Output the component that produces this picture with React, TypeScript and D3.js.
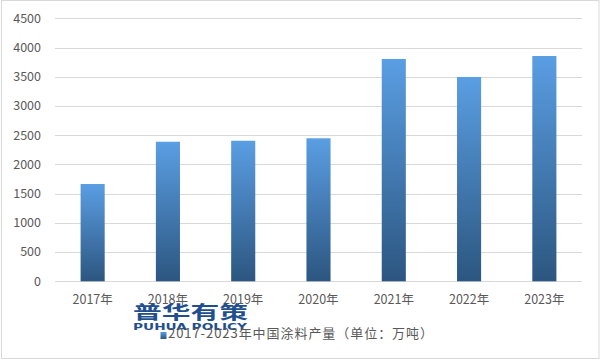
import React from "react";
import * as d3 from "d3";

const categories = ["2017年", "2018年", "2019年", "2020年", "2021年", "2022年", "2023年"];
const values = [1665, 2388, 2405, 2447, 3804, 3496, 3855];
const yTicks = [0, 500, 1000, 1500, 2000, 2500, 3000, 3500, 4000, 4500];
const legendLabel = "2017-2023年中国涂料产量（单位：万吨）";

const W = 601;
const H = 360;
const left = 55;
const right = 582;
const top = 18.3;
const bottom = 281.3;

export default function App() {
  const x = d3.scaleBand<string>().domain(categories).range([left, right]).paddingInner(0.68).paddingOuter(0.34);
  const y = d3.scaleLinear().domain([0, 4500]).range([bottom, top]);
  const font = "'Noto Sans CJK SC', 'Noto Sans', sans-serif";
  return (
    <svg width={W} height={H} style={{ position: "absolute", left: 0, top: 0 }}>
      <defs>
        <linearGradient id="barGrad" x1="0" y1="0" x2="0" y2="1">
          <stop offset="0%" stopColor="#5a9ee3" />
          <stop offset="100%" stopColor="#2c5680" />
        </linearGradient>
      </defs>
      <rect x={0} y={0} width={W} height={H} fill="#fff" />
      <rect x={1.5} y={0.5} width={597.5} height={358} fill="none" stroke="#d9d9d9" strokeWidth={1} />
      {yTicks.map((t) => (
        <g key={t}>
          <line x1={left} x2={right} y1={Math.round(y(t)) + 0.5} y2={Math.round(y(t)) + 0.5} stroke="#d9d9d9" strokeWidth={1} />
          <text x={41} y={y(t)} dy="0.35em" textAnchor="end" fontFamily={font} fontSize={12.5} fill="#595959">
            {t}
          </text>
        </g>
      ))}
      {categories.map((c, i) => (
        <g key={c}>
          <rect x={x(c)} y={y(values[i])} width={x.bandwidth()} height={bottom - y(values[i])} fill="url(#barGrad)" />
          <text x={(x(c) as number) + x.bandwidth() / 2} y={300} dy="0.35em" textAnchor="middle" fontFamily={font} fontSize={12.5} fill="#595959">
            {c}
          </text>
        </g>
      ))}
      <text x={133} y={319} fontFamily={font} fontSize={18} fontWeight="bold" fill="#1f4f8f" textLength={115} lengthAdjust="spacingAndGlyphs">
        普华有策
      </text>
      <text x={133} y={329.5} fontFamily="'DejaVu Sans', sans-serif" fontSize={9.5} fontWeight="bold" fill="#1f4f8f" textLength={114} lengthAdjust="spacingAndGlyphs">
        PUHUA POLICY
      </text>
      <rect x={160.5} y={332} width={6} height={7} fill="url(#barGrad)" />
      <text x={168} y={333} dy="0.35em" fontFamily={font} fontSize={13} fill="#595959" textLength={265} lengthAdjust="spacing">
        {legendLabel}
      </text>
    </svg>
  );
}
